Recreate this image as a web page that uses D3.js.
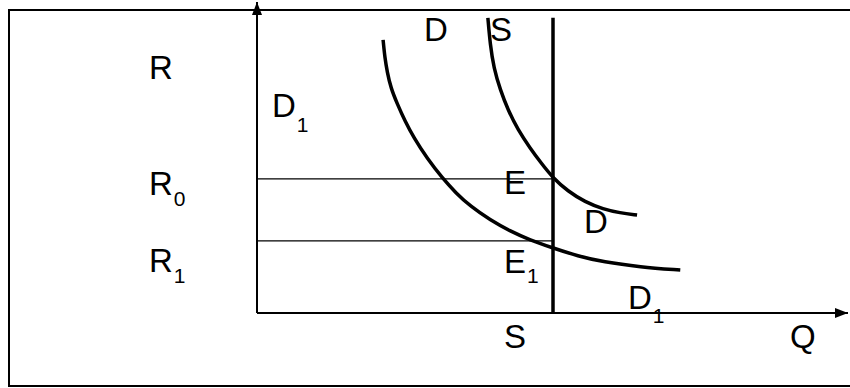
<!DOCTYPE html>
<html>
<head>
<meta charset="utf-8">
<title>R - Q market</title>
<script src="https://cdnjs.cloudflare.com/ajax/libs/d3/7.8.5/d3.min.js"></script>
<style>
    body { margin:0; background:white; }
    svg { display:block; }
    text { font-family:"Liberation Sans", Arial, sans-serif; fill:black; }
</style>
</head>
<body>
<div id="chart"></div>
<script>
// curve values in chart units (Q across, R up)
var demandQ  = [39.0, 39.4, 40.0, 41.1, 42.4, 44.1, 46.1, 48.0, 50.0, 52.5, 55.4, 58.5, 61.3, 64.2];
var demandR  = [94.9, 86.2, 78.8, 71.7, 65.3, 58.8, 53.1, 48.2, 43.4, 39.2, 35.7, 33.4, 32.2, 31.5];
var demand1Q = [21.3, 21.6, 22.0, 22.6, 23.7, 25.0, 26.5, 28.7, 31.3, 33.6, 36.0, 39.4, 42.7, 46.1, 50.0, 54.2, 58.5, 64.7, 71.5];
var demand1R = [87.8, 82.0, 77.5, 72.4, 67.2, 61.7, 56.3, 49.8, 43.4, 38.6, 34.4, 29.9, 26.4, 23.5, 20.9, 18.3, 16.4, 14.8, 13.8];
var supplyQ  = 50;
var supplyR  = [0, 94.9];
var rates    = [43.1, 23.2];   // R0, R1

var width = 850, height = 388;

var svg = d3.select('#chart').append('svg')
    .attr('width', width)
    .attr('height', height);

var x = d3.scaleLinear().domain([0, 100]).range([257, 849]);
var y = d3.scaleLinear().domain([0, 100]).range([313, 2]);

// frame (right edge runs past the window)
svg.append('rect')
    .attr('x', 9).attr('y', 10)
    .attr('width', 860).attr('height', 376)
    .attr('fill', 'none')
    .attr('stroke', 'black')
    .attr('stroke-width', 2);

svg.append('defs').append('marker')
    .attr('id', 'arrow')
    .attr('markerUnits', 'userSpaceOnUse')
    .attr('markerWidth', 14).attr('markerHeight', 10)
    .attr('refX', 13).attr('refY', 5)
    .attr('orient', 'auto')
  .append('path')
    .attr('d', 'M0,0 L13,5 L0,10 Z')
    .attr('fill', 'black');

// axes
svg.append('line')
    .attr('x1', x(0)).attr('y1', y(0))
    .attr('x2', x(0)).attr('y2', y(100))
    .attr('stroke', 'black').attr('stroke-width', 2)
    .attr('marker-end', 'url(#arrow)');
svg.append('line')
    .attr('x1', x(0)).attr('y1', y(0))
    .attr('x2', x(100) - 1).attr('y2', y(0))
    .attr('stroke', 'black').attr('stroke-width', 2)
    .attr('marker-end', 'url(#arrow)');

// R0 / R1 guide lines
svg.selectAll('.guide')
    .data(rates)
  .enter().append('line')
    .attr('class', 'guide')
    .attr('x1', x(0)).attr('x2', x(supplyQ))
    .attr('y1', function(d) { return y(d); })
    .attr('y2', function(d) { return y(d); })
    .attr('stroke', 'black').attr('stroke-width', 1.3);

// fixed supply
svg.append('line')
    .attr('x1', x(supplyQ)).attr('x2', x(supplyQ))
    .attr('y1', y(supplyR[0])).attr('y2', y(supplyR[1]))
    .attr('stroke', 'black').attr('stroke-width', 3.5);

var line = d3.line()
    .x(function(d) { return x(d[0]); })
    .y(function(d) { return y(d[1]); })
    .curve(d3.curveBasis);

svg.append('path')
    .datum(d3.zip(demandQ, demandR))
    .attr('d', line)
    .attr('fill', 'none').attr('stroke', 'black').attr('stroke-width', 3.5);
svg.append('path')
    .datum(d3.zip(demand1Q, demand1R))
    .attr('d', line)
    .attr('fill', 'none').attr('stroke', 'black').attr('stroke-width', 3.5);

// labels
function label(px, py, main, sub, subDy) {
    var t = svg.append('text')
        .attr('x', px).attr('y', py)
        .style('font-size', '33px')
        .text(main);
    if (sub) {
        t.append('tspan')
            .attr('dx', 1).attr('dy', subDy)
            .style('font-size', '21px')
            .text(sub);
    }
}

label(149, 79, 'R');
label(272, 117, 'D', '1', 15);
label(149, 195, 'R', '0', 11);
label(149, 272, 'R', '1', 11);
label(424, 41, 'D');
label(490, 41, 'S');
label(504, 194, 'E');
label(584, 233, 'D');
label(504, 273, 'E', '1', 10);
label(628, 309, 'D', '1', 14);
label(504, 348, 'S');
label(790, 348, 'Q');
</script>
</body>
</html>
